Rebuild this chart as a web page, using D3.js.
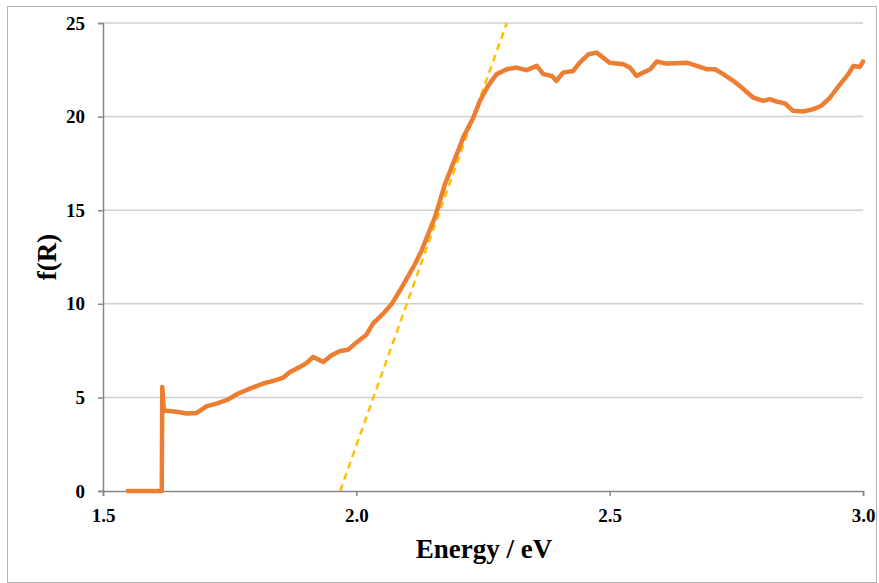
<!DOCTYPE html>
<html>
<head>
<meta charset="utf-8">
<script src="https://cdn.jsdelivr.net/npm/d3@7"></script>
<style>
    body { margin: 0; background: #fff; }
    svg text { font-family: "Liberation Serif", "Times New Roman", serif; font-weight: bold; fill: #000; }
</style>
</head>
<body>
<div id="chart"></div>
<script>
// Kubelka-Munk curve
const energy = [1.549, 1.616, 1.617, 1.620, 1.645, 1.665, 1.685, 1.705, 1.724, 1.744, 1.767, 1.790, 1.816, 1.836, 1.856,
    1.869, 1.889, 1.902, 1.915, 1.935, 1.951, 1.968, 1.984, 2.001, 2.020, 2.033, 2.053, 2.070, 2.086, 2.103, 2.116,
    2.129, 2.142, 2.155, 2.165, 2.175, 2.188, 2.201, 2.211, 2.231, 2.244, 2.260, 2.277, 2.297, 2.316, 2.336, 2.356,
    2.369, 2.386, 2.395, 2.408, 2.428, 2.441, 2.458, 2.474, 2.487, 2.500, 2.527, 2.540, 2.553, 2.566, 2.580, 2.593,
    2.612, 2.632, 2.652, 2.672, 2.691, 2.708, 2.724, 2.744, 2.764, 2.783, 2.803, 2.816, 2.830, 2.846, 2.862, 2.882,
    2.902, 2.918, 2.935, 2.955, 2.971, 2.981, 2.994, 3.000];
const fR = [0, 0, 5.56, 4.30, 4.23, 4.14, 4.17, 4.53, 4.67, 4.85, 5.21, 5.47, 5.74, 5.88, 6.06,
    6.36, 6.63, 6.84, 7.16, 6.89, 7.25, 7.48, 7.55, 7.95, 8.35, 8.94, 9.47, 10.0, 10.71, 11.51, 12.14,
    12.85, 13.74, 14.62, 15.51, 16.40, 17.29, 18.18, 18.89, 19.95, 20.84, 21.64, 22.27, 22.53, 22.62, 22.48, 22.71,
    22.27, 22.17, 21.91, 22.35, 22.44, 22.88, 23.33, 23.42, 23.15, 22.88, 22.80, 22.62, 22.17, 22.35, 22.53, 22.94,
    22.83, 22.85, 22.88, 22.71, 22.53, 22.53, 22.27, 21.91, 21.47, 21.02, 20.84, 20.93, 20.80, 20.70, 20.31, 20.27,
    20.40, 20.58, 21.02, 21.73, 22.27, 22.71, 22.65, 22.94];

// tangent line (dashed)
const fitEnergy = [1.968, 2.297];
const fitValue = [0, 25];

const xTicks = [1.5, 2.0, 2.5, 3.0];
const yTicks = [0, 5, 10, 15, 20, 25];

const margin = {top: 23, right: 16, bottom: 92, left: 103};
const width = 879 - margin.left - margin.right;
const height = 583 - margin.top - margin.bottom;

const root = d3.select("#chart").append("svg")
    .attr("width", 879)
    .attr("height", 583);

// outer frame
root.append("rect")
    .attr("x", 7.5).attr("y", 6.5)
    .attr("width", 869).attr("height", 576)
    .attr("fill", "none")
    .attr("stroke", "#b4b4b4")
    .attr("stroke-width", 1);

const svg = root.append("g")
    .attr("transform", "translate(" + margin.left + "," + margin.top + ")");

const x = d3.scaleLinear().domain([1.5, 3.0]).range([0, width]);
const y = d3.scaleLinear().domain([0, 25]).range([height, 0]);

// gridlines
svg.selectAll(".grid")
    .data(yTicks.filter(d => d > 0))
    .enter().append("line")
    .attr("x1", 0).attr("x2", width)
    .attr("y1", d => y(d)).attr("y2", d => y(d))
    .attr("stroke", "#d0d0d0")
    .attr("stroke-width", 1.5);

// axes
const yAxis = svg.append("g")
    .call(d3.axisLeft(y).tickValues(yTicks).tickSize(5).tickPadding(13).tickFormat(d3.format("d")));
const xAxis = svg.append("g")
    .attr("transform", "translate(0," + height + ")")
    .call(d3.axisBottom(x).tickValues(xTicks).tickSize(5).tickPadding(13).tickFormat(d3.format(".1f")));

[xAxis, yAxis].forEach(ax => {
    ax.select(".domain").attr("stroke", "#868686").attr("stroke-width", 1.5);
    ax.selectAll(".tick line").attr("stroke", "#868686").attr("stroke-width", 1.5);
    ax.selectAll(".tick text").style("font-size", "19px").attr("font-family", null);
});

// clip for the fit line
svg.append("clipPath").attr("id", "plotClip")
    .append("rect").attr("width", width).attr("height", height);

const line = d3.line()
    .x(d => x(d[0]))
    .y(d => y(d[1]));

svg.append("path")
    .datum(fitEnergy.map((e, i) => [e, fitValue[i]]))
    .attr("clip-path", "url(#plotClip)")
    .attr("d", line)
    .attr("fill", "none")
    .attr("stroke", "#FFC000")
    .attr("stroke-width", 2.5)
    .attr("stroke-dasharray", "7,5");

svg.append("path")
    .datum(energy.map((e, i) => [e, fR[i]]))
    .attr("d", line)
    .attr("fill", "none")
    .attr("stroke", "#ED7D31")
    .attr("stroke-width", 4.5)
    .attr("stroke-linejoin", "round")
    .attr("stroke-linecap", "round");

// axis titles
root.append("text")
    .attr("x", 484)
    .attr("y", 558)
    .attr("text-anchor", "middle")
    .style("font-size", "27px")
    .text("Energy / eV");

root.append("text")
    .attr("transform", "translate(56,257) rotate(-90)")
    .attr("text-anchor", "middle")
    .style("font-size", "27px")
    .text("f(R)");
</script>
</body>
</html>
